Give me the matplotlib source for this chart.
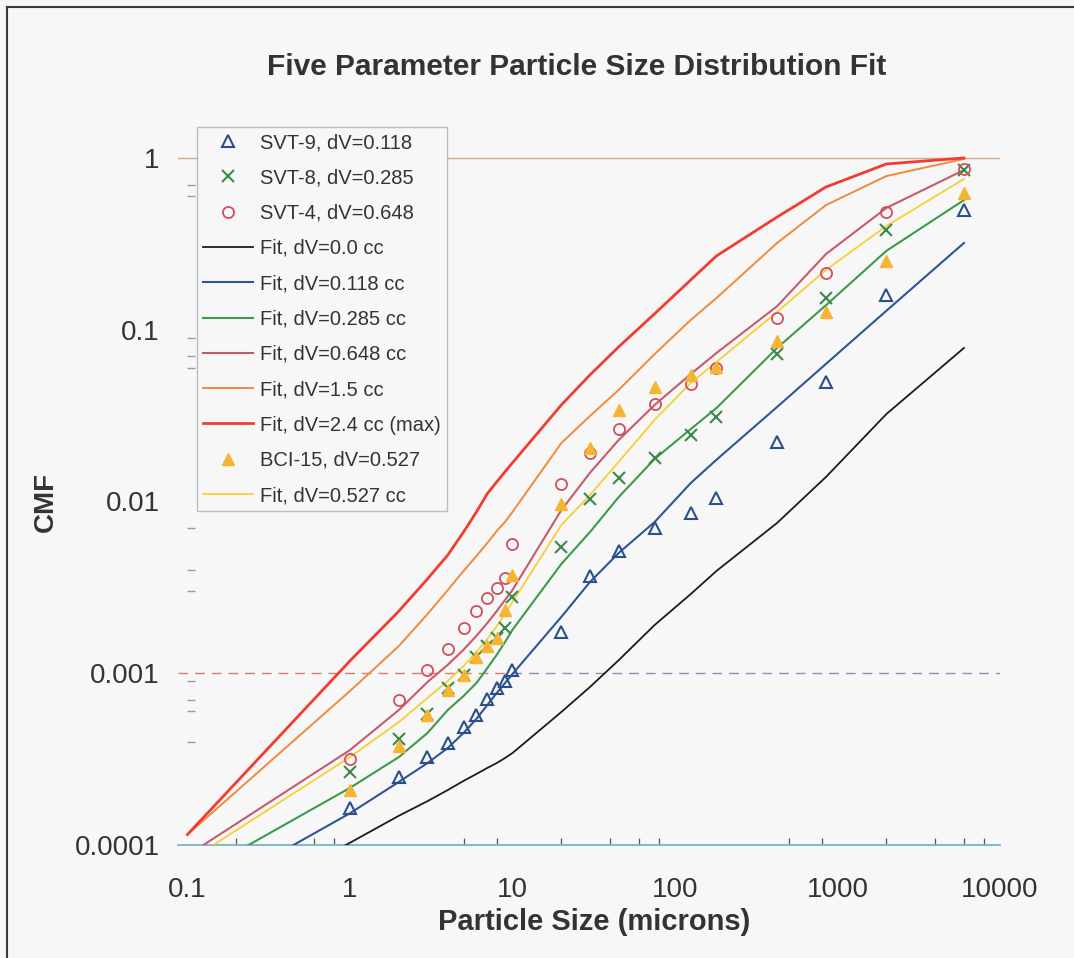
import matplotlib.pyplot as plt
from matplotlib.lines import Line2D

plt.rcParams["font.family"] = ["Liberation Sans", "DejaVu Sans"]

# sieve sizes (microns) for the measured samples
sieve_um = [1, 2, 3, 4, 5, 6, 7, 8, 9, 10, 20, 30, 45, 75, 125, 180, 425, 850, 2000, 6000]

svt9 = [1.64e-4, 2.49e-4, 3.25e-4, 3.93e-4, 4.86e-4, 5.71e-4, 7.08e-4, 8.20e-4, 9.02e-4, 1.04e-3,
        1.74e-3, 3.68e-3, 5.15e-3, 7.01e-3, 8.57e-3, 1.05e-2, 2.22e-2, 4.97e-2, 0.159, 0.498]
svt8 = [2.66e-4, 4.14e-4, 5.79e-4, 8.20e-4, 9.77e-4, 1.24e-3, 1.44e-3, 1.60e-3, 1.83e-3, 2.78e-3,
        5.43e-3, 1.03e-2, 1.37e-2, 1.79e-2, 2.44e-2, 3.10e-2, 7.22e-2, 0.153, 0.381, 0.851]
svt4 = [3.17e-4, 6.99e-4, 1.04e-3, 1.38e-3, 1.83e-3, 2.30e-3, 2.74e-3, 3.13e-3, 3.59e-3, 5.66e-3,
        1.26e-2, 1.92e-2, 2.64e-2, 3.70e-2, 4.83e-2, 5.98e-2, 0.117, 0.214, 0.485, 0.863]
bci15 = [2.09e-4, 3.77e-4, 5.71e-4, 7.98e-4, 9.77e-4, 1.24e-3, 1.44e-3, 1.60e-3, 2.33e-3, 3.73e-3,
         9.67e-3, 2.05e-2, 3.41e-2, 4.64e-2, 5.46e-2, 6.07e-2, 8.59e-2, 0.127, 0.251, 0.626]

# model curves, evaluated at 0.1 um plus the sieve sizes
fit_um = [0.1] + sieve_um
fit_000 = [3.1e-5, 1.03e-4, 1.48e-4, 1.80e-4, 2.09e-4, 2.36e-4, 2.59e-4, 2.81e-4, 3.00e-4, 3.21e-4, 3.43e-4,
           5.95e-4, 8.32e-4, 1.19e-3, 1.91e-3, 2.89e-3, 3.94e-3, 7.50e-3, 1.39e-2, 3.23e-2, 7.83e-2]
fit_0118 = [4.5e-5, 1.53e-4, 2.33e-4, 3.00e-4, 3.67e-4, 4.49e-4, 5.42e-4, 6.53e-4, 7.67e-4, 8.77e-4, 9.90e-4,
            2.13e-3, 3.40e-3, 5.01e-3, 7.60e-3, 1.28e-2, 1.75e-2, 3.55e-2, 6.33e-2, 0.129, 0.320]
fit_0285 = [6.3e-5, 2.15e-4, 3.25e-4, 4.49e-4, 6.11e-4, 7.37e-4, 8.77e-4, 1.07e-3, 1.28e-3, 1.52e-3, 1.79e-3,
            4.33e-3, 6.64e-3, 1.06e-2, 1.77e-2, 2.64e-2, 3.50e-2, 7.83e-2, 0.139, 0.288, 0.569]
fit_0648 = [8.7e-5, 3.57e-4, 6.11e-4, 8.89e-4, 1.12e-3, 1.37e-3, 1.65e-3, 1.96e-3, 2.30e-3, 2.67e-3, 3.05e-3,
            8.92e-3, 1.47e-2, 2.28e-2, 3.65e-2, 5.52e-2, 7.32e-2, 0.137, 0.276, 0.512, 0.851]
fit_15 = [1.15e-4, 7.88e-4, 1.44e-3, 2.21e-3, 3.05e-3, 3.94e-3, 4.81e-3, 5.73e-3, 6.73e-3, 7.60e-3, 8.69e-3,
          2.19e-2, 3.15e-2, 4.46e-2, 7.22e-2, 0.114, 0.153, 0.320, 0.532, 0.785, 0.987]
fit_24 = [1.15e-4, 1.18e-3, 2.30e-3, 3.54e-3, 4.88e-3, 6.64e-3, 8.69e-3, 1.11e-2, 1.30e-2, 1.49e-2, 1.68e-2,
          3.65e-2, 5.46e-2, 7.94e-2, 0.124, 0.195, 0.269, 0.453, 0.678, 0.923, 1.0]
fit_0527 = [8.0e-5, 3.25e-4, 5.20e-4, 7.18e-4, 9.02e-4, 1.10e-3, 1.33e-3, 1.58e-3, 1.88e-3, 2.21e-3, 2.60e-3,
            7.30e-3, 1.09e-2, 1.70e-2, 2.99e-2, 4.90e-2, 6.49e-2, 0.127, 0.223, 0.402, 0.755]

x_ticks = [0.1, 1, 10, 100, 1000, 10000]
x_ticklabels = ["0.1", "1", "10", "100", "1000", "10000"]
x_minor = [0.2, 0.6, 0.8, 5, 8, 20, 40, 60, 80, 500, 800, 2000, 4000, 6000, 8000]
y_ticks = [1e-4, 1e-3, 1e-2, 1e-1, 1]
y_ticklabels = ["0.0001", "0.001", "0.01", "0.1", "1"]
y_minor = [0.7, 0.6, 0.09, 0.07, 0.06, 0.007, 0.004, 0.003, 0.0009, 0.0007, 0.0006, 0.0004]

BG = "#f7f7f7"
W, H = 1074, 958

fig = plt.figure(figsize=(W / 100, H / 100), dpi=100, facecolor=BG)
ax = fig.add_axes([178 / W, 1 - 845 / H, 822 / W, 718 / H], facecolor=BG)
ax.set_xscale("log")
ax.set_yscale("log")
ax.set_xlim(0.0875, 10000)
ax.set_ylim(1e-4, 1.515)

ax.axhline(1, color="#d4aa88", linewidth=1.0, zorder=1)
ax.hlines(1e-3, 0.0875, 10, color="#d08070", linewidth=1.0, linestyles=(0, (7, 5)), zorder=1)
ax.hlines(1e-3, 10, 10000, color="#7c98b4", linewidth=1.0, linestyles=(0, (7, 5)), zorder=1)

ax.plot(sieve_um, svt9, linestyle="none", marker="^", markersize=9, markerfacecolor="none",
        markeredgecolor="#2c4f8c", markeredgewidth=1.5, label="SVT-9, dV=0.118", zorder=4)
ax.plot(sieve_um, svt8, linestyle="none", marker="x", markersize=9,
        markeredgecolor="#3b8a4c", markeredgewidth=1.5, label="SVT-8, dV=0.285", zorder=4)
ax.plot(sieve_um, svt4, linestyle="none", marker="o", markersize=8, markerfacecolor="none",
        markeredgecolor="#d04f5e", markeredgewidth=1.3, label="SVT-4, dV=0.648", zorder=4)
ax.plot(fit_um, fit_000, color="#1c1c1c", linewidth=1.3, label="Fit, dV=0.0 cc", zorder=3)
ax.plot(fit_um, fit_0118, color="#2f5597", linewidth=1.5, label="Fit, dV=0.118 cc", zorder=3)
ax.plot(fit_um, fit_0285, color="#3c9a4c", linewidth=1.5, label="Fit, dV=0.285 cc", zorder=3)
ax.plot(fit_um, fit_0648, color="#c85a6a", linewidth=1.5, label="Fit, dV=0.648 cc", zorder=3)
ax.plot(fit_um, fit_15, color="#f08a3c", linewidth=1.4, label="Fit, dV=1.5 cc", zorder=3)
ax.plot(fit_um, fit_24, color="#f23c30", linewidth=2.0, label="Fit, dV=2.4 cc (max)", zorder=3)
ax.plot(sieve_um, bci15, linestyle="none", marker="^", markersize=9, markerfacecolor="#f5b432",
        markeredgecolor="#f5b432", label="BCI-15, dV=0.527", zorder=5)
ax.plot(fit_um, fit_0527, color="#f6cf36", linewidth=1.3, label="Fit, dV=0.527 cc", zorder=3)

for side in ("top", "right"):
    ax.spines[side].set_visible(False)
ax.spines["left"].set_position(("data", 0.1))
ax.spines["left"].set_color("none")
ax.spines["bottom"].set_color("#78b4cc")
ax.spines["bottom"].set_linewidth(1.3)

ax.set_xticks(x_ticks, x_ticklabels)
ax.set_xticks(x_minor, minor=True)
ax.set_yticks(y_ticks, y_ticklabels)
ax.set_yticks(y_minor, minor=True)
ax.xaxis.set_minor_formatter(plt.NullFormatter())
ax.yaxis.set_minor_formatter(plt.NullFormatter())
ax.tick_params(axis="x", which="major", length=0, pad=23, labelsize=20, labelcolor="#333333")
ax.tick_params(axis="x", which="minor", direction="in", length=5, width=0.9, color="#555555")
ax.tick_params(axis="y", which="major", length=0, pad=20, labelsize=20, labelcolor="#333333")
ax.tick_params(axis="y", which="minor", direction="in", length=6, width=1.0, color="#8ea2b4")

ax.set_xlabel("Particle Size (microns)", fontsize=21, fontweight="bold", color="#333333")
ax.xaxis.set_label_coords((594 - 178) / 822, (845 - 908) / 718)
ax.set_ylabel("CMF", fontsize=20, fontweight="bold", color="#333333")
ax.yaxis.set_label_coords((59 - 178) / 822, (845 - 502) / 718)

fig.text(577 / W, 1 - 67 / H, "Five Parameter Particle Size Distribution Fit",
         ha="center", va="center", fontsize=21.5, fontweight="bold", color="#333333")

leg = ax.legend(loc="upper left", bbox_to_anchor=((197 - 178) / 822, 1.0), borderaxespad=0,
                fontsize=14.5, labelspacing=0.81, handlelength=2.5, handletextpad=0.35,
                borderpad=0.3, numpoints=1, fancybox=False, framealpha=1, facecolor=BG,
                edgecolor="#b4c0c8")
for text in leg.get_texts():
    text.set_color("#333333")

# outer chart border (left and top edges of the scanned frame)
fig.add_artist(Line2D([7 / W, 7 / W], [0, 1 - 7 / H], color="#3a3a3a", linewidth=1.5))
fig.add_artist(Line2D([7 / W, 1], [1 - 7 / H, 1 - 7 / H], color="#3a3a3a", linewidth=1.5))

fig.savefig("out.png", dpi=100, facecolor=BG)
